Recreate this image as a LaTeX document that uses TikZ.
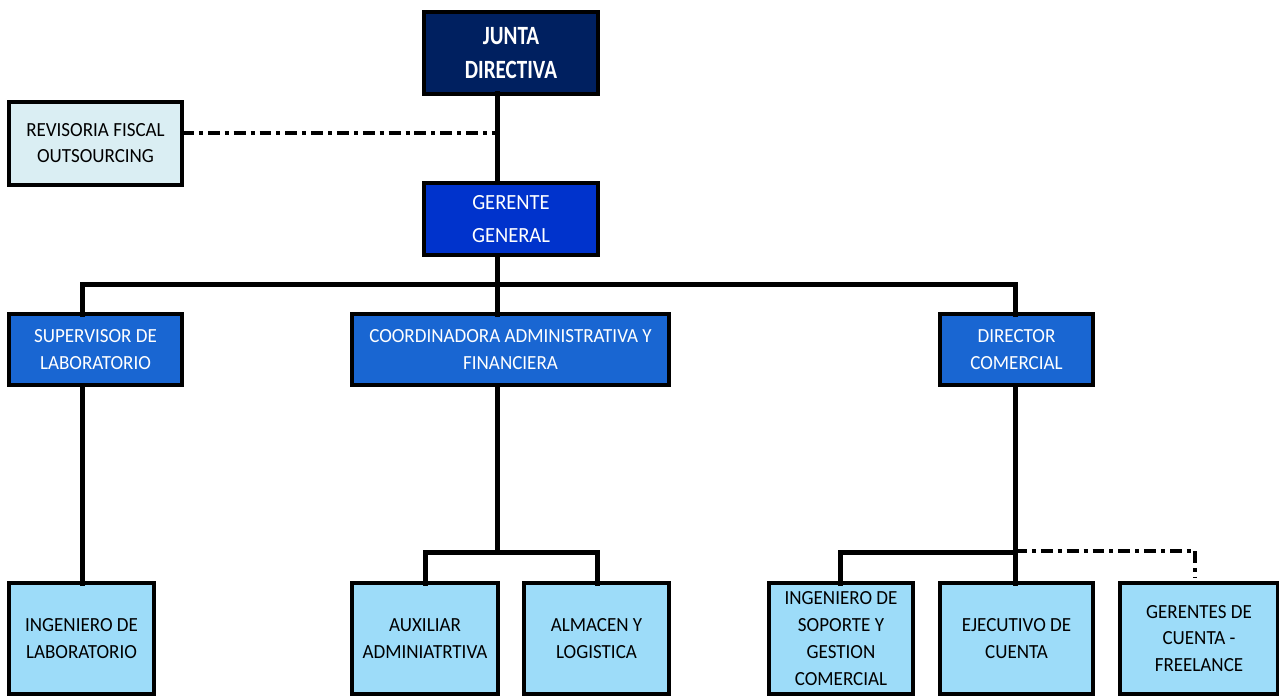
\documentclass[tikz,border=0pt]{standalone}
\usepackage{fontspec}
\setmainfont{Carlito}[FakeStretch=0.95]
\newfontfamily\boardfont{Carlito}[FakeStretch=0.8]
\usepackage{tikz}
\definecolor{Black}{HTML}{000000}
\definecolor{boardblue}{HTML}{002060}
\definecolor{managerblue}{HTML}{0033CC}
\definecolor{headblue}{HTML}{1966D2}
\definecolor{staffblue}{HTML}{9DDCF9}
\definecolor{advisorblue}{HTML}{DAEEF3}
\tikzstyle{none}=[inner sep=0pt]
\tikzstyle{box}=[draw=Black,line width=0.09cm,align=center,inner sep=0pt,font=\fontsize{11.4}{15.6}\selectfont]
\tikzstyle{board}=[box,fill=boardblue,text=white,font=\boardfont\bfseries\fontsize{15}{19.3}\selectfont]
\tikzstyle{manager}=[box,fill=managerblue,text=white,font=\fontsize{12.3}{18.8}\selectfont]
\tikzstyle{head}=[box,fill=headblue,text=white,minimum height=1.42cm]
\tikzstyle{staff}=[box,fill=staffblue,text=Black,minimum height=2.22cm]
\tikzstyle{advisor}=[box,fill=advisorblue,text=Black,font=\fontsize{11.4}{14.8}\selectfont]
\tikzstyle{simple}=[-,draw=Black,line width=0.1cm,line cap=rect]
\tikzstyle{dotdash}=[-,draw=Black,line width=0.075cm,dash pattern=on 6.8pt off 2.8pt on 2.3pt off 2.8pt]

\begin{document}
\begin{tikzpicture}
  \useasboundingbox (0,0) rectangle (25.58,-13.92);
  \node [style=board, minimum width=3.48cm, minimum height=1.64cm] (0) at (10.22, -1.06) {JUNTA\\DIRECTIVA};
  \node [style=advisor, minimum width=3.46cm, minimum height=1.66cm] (1) at (1.91, -2.87) {REVISORIA FISCAL\\OUTSOURCING};
  \node [style=manager, minimum width=3.48cm, minimum height=1.44cm] (2) at (10.22, -4.38) {GERENTE\\GENERAL};
  \node [style=head, minimum width=3.46cm] (3) at (1.91, -6.99) {SUPERVISOR DE\\LABORATORIO};
  \node [style=head, minimum width=6.34cm] (4) at (10.21, -6.99) {COORDINADORA ADMINISTRATIVA Y\\FINANCIERA};
  \node [style=head, minimum width=3.06cm] (5) at (20.33, -6.99) {DIRECTOR\\COMERCIAL};
  \node [style=staff, minimum width=2.90cm] (6) at (1.63, -12.77) {INGENIERO DE\\LABORATORIO};
  \node [style=staff, minimum width=2.92cm] (7) at (8.50, -12.77) {AUXILIAR\\ADMINIATRTIVA};
  \node [style=staff, minimum width=2.90cm] (8) at (11.93, -12.77) {ALMACEN Y\\LOGISTICA};
  \node [style=staff, minimum width=2.88cm, font=\fontsize{11.4}{15.2}\selectfont] (9) at (16.82, -12.77) {INGENIERO DE\\SOPORTE Y\\GESTION\\COMERCIAL};
  \node [style=staff, minimum width=3.06cm] (10) at (20.33, -12.77) {EJECUTIVO DE\\CUENTA};
  \node [style=staff, minimum width=3.16cm, font=\fontsize{11.4}{15.2}\selectfont] (11) at (23.98, -12.77) {GERENTES DE\\CUENTA -\\FREELANCE};
  \node [style=none] (12) at (9.94, -1.88) {};
  \node [style=none] (13) at (9.94, -2.66) {};
  \node [style=none] (14) at (9.94, -3.66) {};
  \node [style=none] (15) at (9.94, -5.10) {};
  \node [style=none] (16) at (9.94, -5.68) {};
  \node [style=none] (17) at (1.64, -5.68) {};
  \node [style=none] (18) at (20.30, -5.68) {};
  \node [style=none] (19) at (1.64, -6.28) {};
  \node [style=none] (20) at (9.94, -6.28) {};
  \node [style=none] (21) at (20.30, -6.28) {};
  \node [style=none] (22) at (1.64, -7.70) {};
  \node [style=none] (23) at (1.64, -11.66) {};
  \node [style=none] (24) at (9.94, -7.70) {};
  \node [style=none] (25) at (9.94, -11.04) {};
  \node [style=none] (26) at (8.50, -11.04) {};
  \node [style=none] (27) at (11.94, -11.04) {};
  \node [style=none] (28) at (8.50, -11.66) {};
  \node [style=none] (29) at (11.94, -11.66) {};
  \node [style=none] (30) at (20.30, -7.70) {};
  \node [style=none] (31) at (20.30, -11.04) {};
  \node [style=none] (32) at (16.80, -11.04) {};
  \node [style=none] (33) at (16.80, -11.66) {};
  \node [style=none] (34) at (20.30, -11.66) {};
  \node [style=none] (35) at (23.90, -11.02) {};
  \node [style=none] (36) at (23.90, -11.56) {};
  \node [style=none] (37) at (3.64, -2.66) {};
  \node [style=none] (38) at (20.30, -11.02) {};
  \draw [style=simple] (12.center) to (14.center);
  \draw [style=simple] (15.center) to (16.center);
  \draw [style=simple] (17.center) to (18.center);
  \draw [style=simple] (17.center) to (19.center);
  \draw [style=simple] (16.center) to (20.center);
  \draw [style=simple] (18.center) to (21.center);
  \draw [style=simple] (22.center) to (23.center);
  \draw [style=simple] (24.center) to (25.center);
  \draw [style=simple] (26.center) to (27.center);
  \draw [style=simple] (26.center) to (28.center);
  \draw [style=simple] (27.center) to (29.center);
  \draw [style=simple] (30.center) to (34.center);
  \draw [style=simple] (32.center) to (31.center);
  \draw [style=simple] (32.center) to (33.center);
  \draw [style=dotdash] (37.center) to (13.center);
  \draw [style=dotdash] (38.center) to (35.center);
  \draw [style=dotdash] (35.center) to (36.center);
\end{tikzpicture}
\end{document}
